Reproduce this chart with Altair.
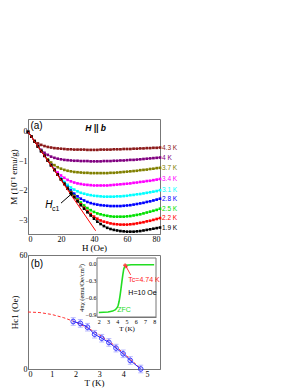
import altair as alt
import pandas as pd

# ---------------- panel (a) data ----------------
H = list(range(0, 81, 2))
temps = ["4.3 K", "4 K", "3.7 K", "3.4 K", "3.1 K", "2.8 K", "2.5 K", "2.2 K", "1.9 K"]
colors = ["#8B1A1A", "#800080", "#808000", "#FF00FF", "#00FFFF", "#0000FF", "#00E000", "#FF0000", "#000000"]

M_43 = [0, -0.16, -0.30, -0.39, -0.44, -0.48, -0.51, -0.53, -0.55, -0.56, -0.57, -0.58, -0.59, -0.59, -0.60,
        -0.60, -0.60, -0.60, -0.61, -0.61, -0.61, -0.61, -0.60, -0.60, -0.60, -0.60, -0.59, -0.59, -0.59, -0.58,
        -0.58, -0.58, -0.57, -0.57, -0.56, -0.56, -0.55, -0.55, -0.54, -0.54, -0.53]
M_40 = [0, -0.16, -0.32, -0.48, -0.61, -0.71, -0.78, -0.84, -0.88, -0.91, -0.93, -0.95, -0.96, -0.97, -0.98,
        -0.98, -0.99, -0.99, -0.99, -1.00, -1.00, -1.00, -1.00, -0.99, -0.99, -0.99, -0.98, -0.98, -0.97, -0.97,
        -0.96, -0.95, -0.95, -0.94, -0.93, -0.92, -0.91, -0.90, -0.89, -0.88, -0.87]
M_37 = [0, -0.16, -0.32, -0.49, -0.65, -0.80, -0.93, -1.04, -1.13, -1.20, -1.25, -1.29, -1.32, -1.34, -1.36,
        -1.37, -1.38, -1.39, -1.39, -1.40, -1.40, -1.40, -1.40, -1.40, -1.40, -1.39, -1.39, -1.38, -1.37, -1.36,
        -1.35, -1.34, -1.33, -1.32, -1.30, -1.29, -1.28, -1.26, -1.25, -1.23, -1.22]
M_34 = [0, -0.16, -0.32, -0.49, -0.65, -0.81, -0.97, -1.12, -1.26, -1.38, -1.48, -1.56, -1.63, -1.68, -1.72,
        -1.75, -1.77, -1.79, -1.80, -1.81, -1.82, -1.82, -1.82, -1.82, -1.82, -1.81, -1.80, -1.79, -1.78, -1.77,
        -1.76, -1.75, -1.73, -1.72, -1.70, -1.69, -1.67, -1.66, -1.64, -1.62, -1.60]
M_31 = [0, -0.16, -0.32, -0.49, -0.65, -0.81, -0.97, -1.13, -1.29, -1.44, -1.58, -1.70, -1.80, -1.89, -1.96,
        -2.02, -2.07, -2.10, -2.13, -2.15, -2.17, -2.18, -2.19, -2.20, -2.20, -2.20, -2.20, -2.19, -2.19, -2.18,
        -2.17, -2.15, -2.14, -2.12, -2.11, -2.09, -2.07, -2.05, -2.03, -2.01, -1.98]
M_28 = [0, -0.16, -0.32, -0.49, -0.65, -0.81, -0.97, -1.13, -1.29, -1.45, -1.60, -1.74, -1.87, -1.99, -2.10,
        -2.19, -2.27, -2.33, -2.38, -2.42, -2.45, -2.47, -2.49, -2.50, -2.51, -2.52, -2.52, -2.52, -2.52, -2.51,
        -2.50, -2.49, -2.47, -2.45, -2.43, -2.41, -2.38, -2.36, -2.33, -2.30, -2.27]
M_25 = [0, -0.16, -0.32, -0.49, -0.65, -0.81, -0.97, -1.13, -1.29, -1.45, -1.61, -1.76, -1.90, -2.04, -2.17,
        -2.29, -2.40, -2.50, -2.59, -2.66, -2.72, -2.77, -2.80, -2.83, -2.85, -2.87, -2.88, -2.88, -2.88, -2.88,
        -2.87, -2.86, -2.84, -2.82, -2.80, -2.77, -2.74, -2.71, -2.68, -2.65, -2.61]
M_22 = [0, -0.16, -0.32, -0.49, -0.65, -0.81, -0.97, -1.13, -1.29, -1.45, -1.61, -1.77, -1.92, -2.06, -2.20,
        -2.33, -2.46, -2.58, -2.69, -2.79, -2.88, -2.95, -3.01, -3.05, -3.08, -3.11, -3.13, -3.14, -3.15, -3.15,
        -3.15, -3.14, -3.13, -3.11, -3.09, -3.07, -3.04, -3.02, -2.99, -2.96, -2.93]
M_19 = [0, -0.16, -0.32, -0.49, -0.65, -0.81, -0.97, -1.13, -1.29, -1.45, -1.61, -1.77, -1.93, -2.08, -2.22,
        -2.36, -2.49, -2.61, -2.73, -2.84, -2.95, -3.05, -3.13, -3.20, -3.26, -3.30, -3.33, -3.35, -3.37, -3.38,
        -3.39, -3.39, -3.39, -3.38, -3.37, -3.35, -3.33, -3.31, -3.29, -3.27, -3.25]
curves = [M_43, M_40, M_37, M_34, M_31, M_28, M_25, M_22, M_19]

meissner_H = [0, 41]
meissner_M = [0, -3.36]

# ---------------- panel (b) data ----------------
T_pts = [1.9, 2.2, 2.5, 2.8, 3.1, 3.4, 3.7, 4.0, 4.3, 4.74]
Hc1_pts = [25.0, 24.0, 22.0, 18.3, 16.2, 14.0, 11.0, 8.0, 4.5, 0.0]
Hc1_err = [2, 2, 2, 2, 2, 2, 2, 2, 2, 2]
T_fit = [0, 0.5, 1.0, 1.5, 2.0, 2.5, 3.0, 3.5, 4.0, 4.5, 4.74]
Hc1_fit = [30.0, 29.7, 28.7, 27.0, 24.7, 21.7, 18.0, 13.7, 8.6, 2.9, 0.0]

T_chi = [2.0, 2.5, 3.0, 3.5, 3.8, 4.0, 4.1, 4.2, 4.3, 4.4, 4.5, 4.6, 4.7, 4.8, 5.0, 5.5, 6.0, 7.0, 8.0]
chi = [-0.87, -0.865, -0.86, -0.845, -0.82, -0.78, -0.74, -0.67, -0.57, -0.45, -0.32, -0.20, -0.10, -0.05,
       -0.03, -0.02, -0.02, -0.02, -0.02]

SERIF = "Liberation Serif"
SANS = "Liberation Sans"
GRAY = "#777777"

# ---------------- build panel (a) ----------------
rows = []
for t, c in zip(temps, curves):
    for h, m in zip(H, c):
        rows.append({"H": h, "M": m, "T": t})
df_a = pd.DataFrame(rows)
df_end = pd.DataFrame({"H": [80] * len(temps), "M": [c[-1] for c in curves], "T": temps})
df_line = pd.DataFrame({"H": meissner_H, "M": meissner_M})

xa = alt.X("H:Q", scale=alt.Scale(domain=[0, 80], nice=False),
           axis=alt.Axis(values=[0, 20, 40, 60, 80], title="H (Oe)", format="d"))
ya = alt.Y("M:Q", scale=alt.Scale(domain=[-3.47, 0.44], nice=False),
           axis=alt.Axis(values=[-3, -2, -1, 0], title="M (10⁻¹ emu/g)", format="d"))
col = alt.Color("T:N", scale=alt.Scale(domain=temps, range=colors), legend=None)

a_lines = alt.Chart(df_a).mark_line(strokeWidth=0.8).encode(x=xa, y=ya, color=col, detail="T:N")
a_pts = alt.Chart(df_a).mark_point(shape="square", filled=True, size=7, opacity=1).encode(x=xa, y=ya, color=col)
a_red = alt.Chart(df_line).mark_line(color="#FF0000", strokeWidth=1).encode(x=xa, y=ya)
a_lab = alt.Chart(df_end).mark_text(align="left", baseline="middle", dx=2, font=SANS, fontSize=6.5).encode(
    x=xa, y=ya, text="T:N", color=col)

df_txt = pd.DataFrame({"H": [1.5], "M": [0.2], "t": ["(a)"]})
a_tag = alt.Chart(df_txt).mark_text(align="left", baseline="middle", font=SANS, fontSize=10).encode(
    x=xa, y=ya, text="t:N")
df_hb = pd.DataFrame({"H": [41], "M": [0.13], "t": ["H || b"]})
a_hb = alt.Chart(df_hb).mark_text(align="center", baseline="middle", font=SANS, fontSize=8.5,
                                  fontWeight="bold", fontStyle="italic").encode(x=xa, y=ya, text="t:N")
df_hc = pd.DataFrame({"H": [10.5], "M": [-2.5], "t": ["H"]})
a_hc = alt.Chart(df_hc).mark_text(align="left", baseline="middle", font=SANS, fontSize=10,
                                  fontStyle="italic").encode(x=xa, y=ya, text="t:N")
df_hc_sub = pd.DataFrame({"H": [14.6], "M": [-2.62], "t": ["c1"]})
a_hc_sub = alt.Chart(df_hc_sub).mark_text(align="left", baseline="middle", font=SANS, fontSize=7).encode(
    x=xa, y=ya, text="t:N")
df_arr = pd.DataFrame({"H": [20, 26.5], "M": [-2.42, -2.1]})
a_arr = alt.Chart(df_arr).mark_line(color="black", strokeWidth=1).encode(x=xa, y=ya)
a_head = alt.Chart(df_arr.iloc[[1]]).mark_point(shape="triangle-up", filled=True, size=18, angle=52,
                                                color="black", opacity=1).encode(x=xa, y=ya)

panel_a = alt.layer(a_lines, a_pts, a_red, a_lab, a_tag, a_hb, a_hc, a_hc_sub, a_arr, a_head).properties(
    width=132, height=115)

# ---------------- build panel (b) ----------------
df_pts = pd.DataFrame({"T": T_pts, "Hc": Hc1_pts,
                       "lo": [h - e for h, e in zip(Hc1_pts, Hc1_err)],
                       "hi": [h + e for h, e in zip(Hc1_pts, Hc1_err)]})
df_fit = pd.DataFrame({"T": T_fit, "Hc": Hc1_fit})

xb = alt.X("T:Q", scale=alt.Scale(domain=[0, 5.55], nice=False),
           axis=alt.Axis(values=[0, 1, 2, 3, 4, 5], title="T (K)"))
yb = alt.Y("Hc:Q", scale=alt.Scale(domain=[0, 60], nice=False),
           axis=alt.Axis(values=[0, 10, 20, 30, 40, 50, 60], title="Hc1 (Oe)"))

b_fit = alt.Chart(df_fit).mark_line(color="#FF3030", strokeWidth=1, strokeDash=[3, 2]).encode(x=xb, y=yb)
b_err = alt.Chart(df_pts).mark_rule(color="#9C9CFF", strokeWidth=1.5, opacity=0.7).encode(
    x=xb, y=alt.Y("lo:Q"), y2="hi:Q")
b_cap1 = alt.Chart(df_pts).mark_tick(color="#9C9CFF", thickness=1, size=5, orient="horizontal",
                                      opacity=0.7).encode(x=xb, y=alt.Y("lo:Q"))
b_cap2 = alt.Chart(df_pts).mark_tick(color="#9C9CFF", thickness=1, size=5, orient="horizontal",
                                      opacity=0.7).encode(x=xb, y=alt.Y("hi:Q"))
b_line = alt.Chart(df_pts).mark_line(color="#2020FF", strokeWidth=1).encode(x=xb, y=yb)
b_circ = alt.Chart(df_pts).mark_point(shape="circle", filled=False, color="#3030FF", size=22,
                                      strokeWidth=0.9, opacity=1).encode(x=xb, y=yb)
df_btag = pd.DataFrame({"T": [0.12], "Hc": [55.5], "t": ["(b)"]})
b_tag = alt.Chart(df_btag).mark_text(align="left", baseline="middle", font=SANS, fontSize=10).encode(
    x=xb, y=yb, text="t:N")

main_b = alt.layer(b_fit, b_err, b_cap1, b_cap2, b_line, b_circ, b_tag)

# inset
xi_scale = alt.Scale(domain=[1.8, 8.2], range=[69, 128], nice=False)
yi_scale = alt.Scale(domain=[-0.95, 0.1], range=[62, 3], nice=False, zero=False)
xi = alt.X("Ti:Q", scale=xi_scale,
           axis=alt.Axis(orient="bottom", offset=-52, values=[2, 3, 4, 5, 6, 7, 8], title="T (K)",
                         labelFontSize=6, titleFontSize=7, tickSize=0, labelPadding=1, titlePadding=0))
yi = alt.Y("chi:Q", scale=yi_scale,
           axis=alt.Axis(orient="left", offset=-69, values=[0.0, -0.3, -0.6, -0.9], format=".1f",
                         title="4πχ (emu/Oe/cm³)", labelFontSize=6, titleFontSize=6.5, tickSize=0,
                         labelPadding=1, titlePadding=1))

df_frame = pd.DataFrame({"Ti": [1.8], "Ti2": [8.2], "chi": [-0.95], "chi2": [0.1]})
i_frame = alt.Chart(df_frame).mark_rect(fill="white", stroke=GRAY, strokeWidth=1).encode(
    x=xi, x2="Ti2:Q", y=yi, y2="chi2:Q")
df_chi = pd.DataFrame({"Ti": T_chi, "chi": chi})
i_line = alt.Chart(df_chi).mark_line(color="#22DD22", strokeWidth=1.6).encode(x=xi, y=yi)
df_tc = pd.DataFrame({"Ti": [4.85], "chi": [-0.03]})
i_tc = alt.Chart(df_tc).mark_point(shape="cross", color="#FF4040", size=14, filled=True, opacity=1).encode(
    x=xi, y=yi)
df_tarr = pd.DataFrame({"Ti": [5.45, 4.95], "chi": [-0.2, -0.05]})
i_arr = alt.Chart(df_tarr).mark_line(color="#FF2020", strokeWidth=0.9).encode(x=xi, y=yi)
i_head = alt.Chart(df_tarr.iloc[[1]]).mark_point(shape="triangle-up", filled=True, size=10, angle=330,
                                                  color="#FF2020", opacity=1).encode(x=xi, y=yi)
df_it = pd.DataFrame({"Ti": [5.2, 5.2, 4.0], "chi": [-0.3, -0.52, -0.82],
                      "t": ["Tc=4.74 K", "H=10 Oe", "ZFC"], "c": ["r", "k", "g"]})
i_txt = alt.Chart(df_it).mark_text(align="left", baseline="middle", font=SANS, fontSize=7).encode(
    x=xi, y=yi, text="t:N",
    color=alt.Color("c:N", scale=alt.Scale(domain=["r", "k", "g"], range=["#FF2020", "#000000", "#22DD22"]),
                    legend=None))

inset = alt.layer(i_frame, i_line, i_arr, i_head, i_tc, i_txt)

panel_b = alt.layer(main_b, inset).resolve_scale(x="independent", y="independent", color="independent").properties(
    width=132, height=114)

chart = alt.vconcat(panel_a, panel_b, spacing=21, bounds="flush").properties(
    padding={"left": 0, "top": 110, "right": 0, "bottom": 0},
    background="white",
).configure_view(stroke=GRAY, strokeWidth=1).configure_axis(
    labelFont=SERIF, titleFont=SERIF, labelFontSize=8, titleFontSize=9, labelColor="black",
    titleColor="black", titleFontWeight="normal", domainColor=GRAY, tickColor=GRAY, tickSize=0,
    labelPadding=1, titlePadding=0, grid=False
)

chart.save("out.html", embed_options={"renderer": "svg", "actions": False})
